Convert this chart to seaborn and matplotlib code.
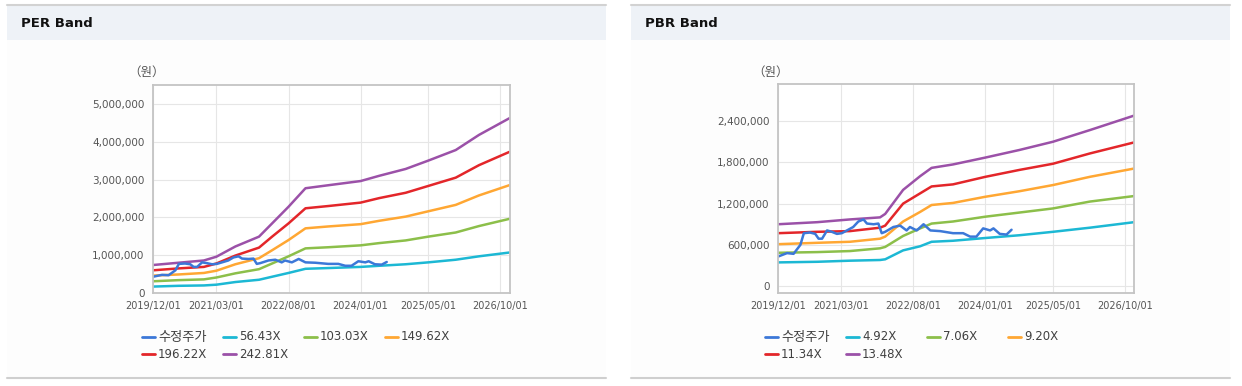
import matplotlib
matplotlib.use("Agg")
import pandas as pd
import matplotlib.pyplot as plt
import matplotlib.dates as mdates
from matplotlib.patches import Rectangle
from matplotlib.lines import Line2D
from matplotlib.ticker import FuncFormatter
import seaborn as sns

sns.set_style("white")
plt.rcParams['font.family'] = ['DejaVu Sans', 'Noto Sans CJK KR']

# ---------- DATA ----------
# adjusted price (수정주가), won
price_dates = ["2019-12-01", "2020-02-04", "2020-03-22", "2020-05-10", "2020-06-04",
               "2020-07-18", "2020-08-25", "2020-09-18", "2020-10-13", "2020-11-18",
               "2020-12-22", "2021-01-28", "2021-03-04", "2021-04-10", "2021-05-25",
               "2021-07-01", "2021-08-07", "2021-09-01", "2021-10-19", "2021-11-22",
               "2021-12-16", "2022-01-10", "2022-03-10", "2022-04-28", "2022-06-13",
               "2022-07-07", "2022-08-25", "2022-10-13", "2022-12-01", "2023-02-10",
               "2023-05-13", "2023-07-25", "2023-09-13", "2023-10-28", "2023-12-16",
               "2024-02-04", "2024-02-28", "2024-04-13", "2024-06-01", "2024-07-07"]
price = [430000, 480000, 470000, 600000, 770000,
         780000, 760000, 690000, 690000, 810000,
         790000, 760000, 770000, 810000, 860000,
         940000, 970000, 910000, 900000, 910000,
         770000, 790000, 860000, 880000, 810000,
         860000, 810000, 900000, 810000, 800000,
         770000, 770000, 720000, 720000, 840000,
         810000, 840000, 760000, 750000, 820000]

# PER band
per_dates = ["2019-12-01", "2020-06-01", "2020-12-01", "2021-03-01", "2021-07-15",
             "2022-01-01", "2022-04-05", "2022-08-01", "2022-12-01", "2023-05-15",
             "2024-01-01", "2024-05-15", "2024-11-20", "2025-05-01", "2025-11-15",
             "2026-05-01", "2026-12-05"]
per_labels = ["56.43X", "103.03X", "149.62X", "196.22X", "242.81X"]
per_56 = [170000, 190000, 200000, 220000, 290000, 350000, 430000, 530000, 640000,
          660000, 690000, 720000, 760000, 810000, 880000, 970000, 1070000]
per_103 = [310000, 340000, 360000, 410000, 520000, 630000, 780000, 970000, 1180000,
           1210000, 1260000, 1320000, 1390000, 1490000, 1600000, 1770000, 1960000]
per_149 = [460000, 490000, 530000, 590000, 760000, 920000, 1130000, 1400000, 1710000,
           1760000, 1820000, 1910000, 2020000, 2160000, 2330000, 2580000, 2850000]
per_196 = [600000, 650000, 690000, 780000, 990000, 1200000, 1490000, 1840000, 2240000,
           2300000, 2390000, 2510000, 2650000, 2830000, 3050000, 3380000, 3730000]
per_242 = [740000, 800000, 860000, 960000, 1230000, 1490000, 1840000, 2280000, 2770000,
           2850000, 2960000, 3100000, 3280000, 3500000, 3780000, 4180000, 4620000]

# PBR band
pbr_dates = ["2019-12-01", "2020-09-07", "2021-05-01", "2021-12-04", "2022-01-10",
             "2022-05-19", "2022-09-19", "2022-12-10", "2023-05-13", "2024-01-01",
             "2024-09-01", "2025-05-01", "2026-01-22", "2026-12-05"]
pbr_labels = ["4.92X", "7.06X", "9.20X", "11.34X", "13.48X"]
pbr_492 = [345000, 354000, 370000, 380000, 390000, 520000, 580000, 645000, 660000,
           700000, 740000, 790000, 850000, 930000]
pbr_706 = [485000, 495000, 510000, 550000, 570000, 730000, 840000, 910000, 940000,
           1010000, 1070000, 1130000, 1230000, 1310000]
pbr_920 = [610000, 630000, 645000, 690000, 720000, 940000, 1080000, 1180000, 1210000,
           1300000, 1380000, 1470000, 1590000, 1710000]
pbr_1134 = [770000, 790000, 800000, 850000, 880000, 1200000, 1350000, 1450000, 1480000,
            1590000, 1690000, 1780000, 1930000, 2090000]
pbr_1348 = [900000, 930000, 970000, 1000000, 1050000, 1400000, 1600000, 1720000, 1770000,
            1870000, 1980000, 2100000, 2270000, 2480000]

xtick_dates = ["2019-12-01", "2021-03-01", "2022-08-01", "2024-01-01", "2025-05-01", "2026-10-01"]
per_yticks = [0, 1000000, 2000000, 3000000, 4000000, 5000000]
pbr_yticks = [0, 600000, 1200000, 1800000, 2400000]

price_label = "수정주가"
price_color = "#3c78d8"
band_colors = ["#1cb8d4", "#8cbf4a", "#ffa733", "#e3262a", "#9b51a8"]

# ---------- FIGURE ----------
W, H = 1242, 386
fig = plt.figure(figsize=(W / 100, H / 100), dpi=100)
fig.patch.set_facecolor("white")


def fx(px):
    return px / W


def fy(py):
    return 1 - py / H


def draw_panel(x0, x1, title):
    fig.add_artist(Rectangle((fx(x0), fy(378)), fx(x1 - x0), (378 - 4) / H,
                             transform=fig.transFigure, facecolor="#fdfdfd",
                             edgecolor="none", zorder=0))
    fig.add_artist(Rectangle((fx(x0), fy(40)), fx(x1 - x0), 36 / H,
                             transform=fig.transFigure, facecolor="#eef2f7",
                             edgecolor="none", zorder=0))
    fig.add_artist(Line2D([fx(x0), fx(x1)], [fy(4.5)] * 2, color="#d2d2d2", lw=1.5))
    fig.add_artist(Line2D([fx(x0), fx(x1)], [fy(378)] * 2, color="#cfcfcf", lw=1.5))
    fig.text(fx(x0 + 14), fy(23.5), title, fontsize=9.5, fontweight="bold",
             va="center", color="#111111")


def draw_chart(ax, dates, bands, yticks, ylim, xlim_end):
    d = pd.to_datetime(dates)
    for vals, c in zip(bands, band_colors):
        sns.lineplot(x=d, y=vals, ax=ax, color=c, lw=1.8)
    sns.lineplot(x=pd.to_datetime(price_dates), y=price, ax=ax, color=price_color, lw=1.8)

    ax.set_facecolor("white")
    ax.set_xlim(pd.Timestamp("2019-12-01"), pd.Timestamp(xlim_end))
    ax.set_ylim(*ylim)
    ax.set_yticks(yticks)
    ax.set_xticks(pd.to_datetime(xtick_dates))
    ax.xaxis.set_major_formatter(mdates.DateFormatter("%Y/%m/%d"))
    ax.yaxis.set_major_formatter(FuncFormatter(lambda v, p: f"{int(v):,}"))
    ax.grid(True, color="#e6e6e6", lw=0.8)
    ax.set_axisbelow(True)
    for s in ax.spines.values():
        s.set_color("#c4c4c4")
        s.set_linewidth(1.3)
    ax.tick_params(axis="y", labelsize=7.5, colors="#555555", length=4,
                   width=0.8, color="#b0b0b0", pad=2)
    ax.tick_params(axis="x", labelsize=7, colors="#555555", length=4,
                   width=0.8, color="#b0b0b0", pad=2)
    ax.set_xlabel("")
    ax.set_ylabel("")


def draw_legend(x_start, labels, col_w=81):
    items = [(price_label, price_color)] + list(zip(labels, band_colors))
    for i, (lab, c) in enumerate(items):
        col, row = i % 4, i // 4
        x = x_start + col * col_w
        y = 337 + row * 17
        fig.add_artist(Line2D([fx(x), fx(x + 13)], [fy(y)] * 2, color=c, lw=2))
        size = 9.5 if lab == price_label else 8.5
        fig.text(fx(x + 16), fy(y), lab, fontsize=size, color="#404040", va="center")


# PER panel
draw_panel(7, 606, "PER Band")
ax1 = fig.add_axes([fx(153), fy(293), fx(510 - 153), (293 - 85) / H])
draw_chart(ax1, per_dates, [per_56, per_103, per_149, per_196, per_242],
           per_yticks, (0, 5500000), "2026-12-10")
fig.text(fx(147), fy(72), "（원）", fontsize=9, color="#555555",
         ha="center", va="center", family=["Noto Sans CJK KR", "DejaVu Sans"])
draw_legend(142, per_labels)

# PBR panel
draw_panel(631, 1230, "PBR Band")
ax2 = fig.add_axes([fx(778), fy(293), fx(1134 - 778), (293 - 84) / H])
draw_chart(ax2, pbr_dates, [pbr_492, pbr_706, pbr_920, pbr_1134, pbr_1348],
           pbr_yticks, (-100000, 2940000), "2026-12-05")
fig.text(fx(771), fy(72), "（원）", fontsize=9, color="#555555",
         ha="center", va="center", family=["Noto Sans CJK KR", "DejaVu Sans"])
draw_legend(765, pbr_labels)

fig.savefig("out.png", dpi=100)
